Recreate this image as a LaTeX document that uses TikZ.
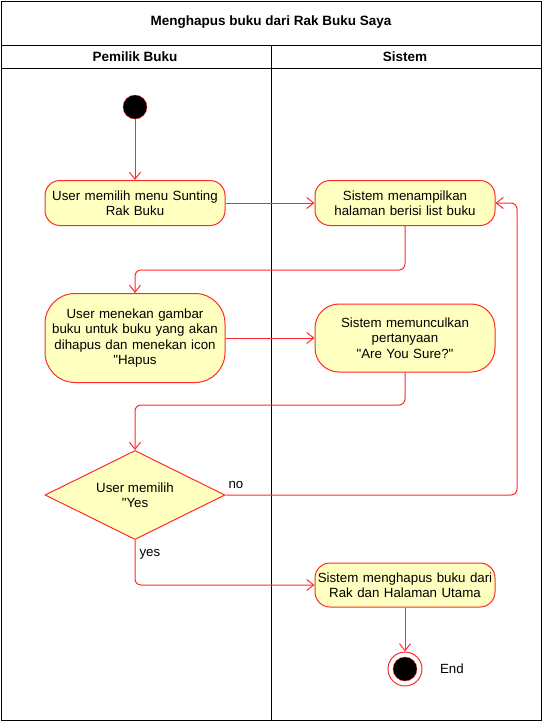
\documentclass[tikz,border=0pt]{standalone}
\usepackage{fontspec}
\setmainfont{Liberation Sans}[Ligatures=TeXOff]
\usetikzlibrary{shapes.geometric,arrows.meta}
\definecolor{umlred}{HTML}{FF2A2A}
\definecolor{umlfill}{HTML}{FFFFC0}

\begin{document}
\begin{tikzpicture}[x=1pt,y=-1pt,
  txt/.style={font=\fontsize{13.3}{15.5}\selectfont},
  head/.style={font=\fontsize{13.5}{16}\selectfont\bfseries},
  act/.style={txt, draw=umlred, fill=umlfill, line width=1pt, rounded corners=15pt,
    minimum width=180pt, minimum height=45pt, text width=178pt, align=center, inner sep=0pt},
  dec/.style={txt, diamond, draw=umlred, fill=umlfill, line width=1pt, aspect=2,
    minimum width=180pt, minimum height=89pt, align=center, inner sep=0pt},
  flow/.style={draw=umlred, line width=1pt, rounded corners=6pt,
    -{Straight Barb[length=7pt,width=11pt]}},
  lane/.style={draw=black, line width=1pt}]
  \useasboundingbox (0,0) rectangle (542,721);
  % swimlanes
  \draw[lane] (1,1) rectangle (541,720);
  \draw[lane] (1,45) -- (541,45);
  \draw[lane] (1,68) -- (541,68);
  \draw[lane] (271,45) -- (271,720);
  \node[head] (title) at (271,22) {Menghapus buku dari Rak Buku Saya};
  \node[head] (laneA) at (135,57) {Pemilik Buku};
  \node[head] (laneB) at (405,57) {Sistem};
  % activities
  \node[circle, draw=umlred, fill=black, minimum size=24pt, inner sep=0pt] (start) at (135,107) {};
  \node[act] (pilih) at (135,203) {User memilih menu Sunting\\Rak Buku};
  \node[act] (tampil) at (405,203) {Sistem menampilkan\\halaman berisi list buku};
  \node[act, minimum height=89pt, rounded corners=30pt] (tekan) at (135,338) {User menekan gambar\\buku untuk buku yang akan\\dihapus dan menekan icon\\"Hapus};
  \node[act, minimum height=68pt, rounded corners=24pt] (tanya) at (405,338) {Sistem memunculkan\\pertanyaan\\"Are You Sure?"};
  \node[dec] (yakin) at (135,495) {User memilih\\"Yes};
  \node[act, minimum height=44pt] (hapus) at (405,585) {Sistem menghapus buku dari\\Rak dan Halaman Utama};
  \node[circle, draw=umlred, fill=white, line width=1pt, minimum size=34pt, inner sep=0pt,
    label={[txt, label distance=14pt]right:End}] (end) at (405,669) {};
  \node[circle, draw=umlred, fill=black, minimum size=24pt, inner sep=0pt] (endin) at (end.center) {};
  \coordinate (noturn) at (517,495);
  % flows
  \draw[flow] (start) -- (pilih);
  \draw[flow] (pilih) -- (tampil);
  \draw[flow] (tampil.south) -- (tampil.south |- 0,270) -| (tekan.north);
  \draw[flow] (tekan) -- (tanya);
  \draw[flow] (tanya.south) -- (tanya.south |- 0,405) -| (yakin.north);
  \draw[flow] (yakin.east) -- (noturn) |- (tampil.east);
  \draw[flow] (yakin.south) |- (hapus.west);
  \draw[flow] (hapus) -- (end);
  \node[txt, anchor=south west] (no) at (225,492) {no};
  \node[txt, anchor=north west] (yes) at (136,546) {yes};
\end{tikzpicture}
\end{document}
